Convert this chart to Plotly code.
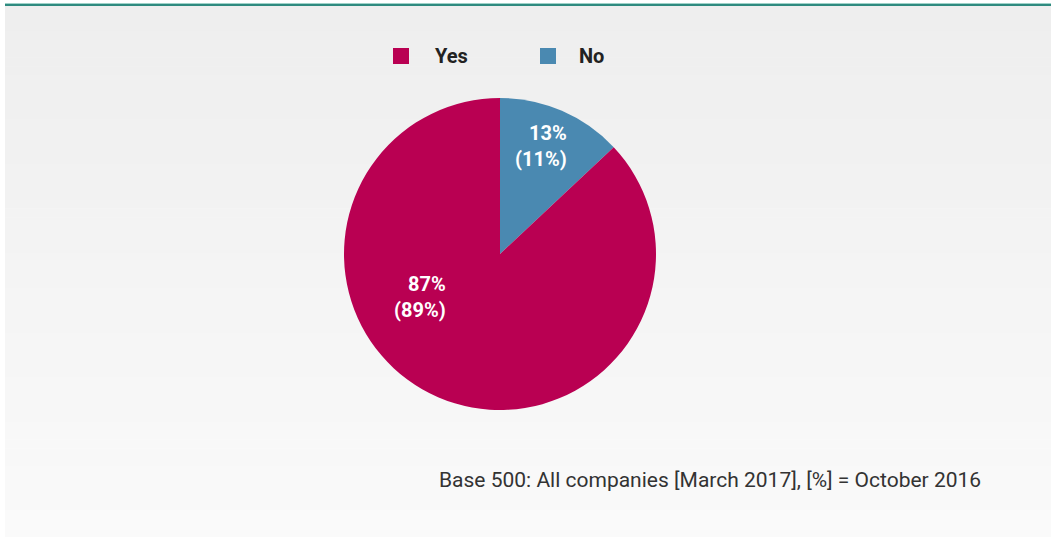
import plotly.graph_objects as go

# Survey answers, March 2017 with October 2016 in brackets
categories = ["No", "Yes"]
values_2017 = [13, 87]
values_2016 = [11, 89]
colors = ["#4a89b1", "#b90052"]
legend_order = ["Yes", "No"]
footnote = "Base 500: All companies [March 2017], [%] = October 2016"

W, H = 1051, 537


def px(x):
    return x / W


def py(y):
    return 1 - y / H


fig = go.Figure()

fig.add_trace(go.Pie(
    labels=categories,
    values=values_2017,
    marker=dict(colors=colors, line=dict(width=0)),
    sort=False,
    direction="clockwise",
    rotation=0,
    textinfo="none",
    hoverinfo="label+percent",
    showlegend=False,
    domain=dict(x=[px(344), px(656)], y=[py(410), py(98)]),
))

shapes = []
# light grey panel with soft vertical gradient
top, bottom, n = 4, H, 60
c0, c1 = (238, 238, 238), (250, 250, 250)
for i in range(n):
    y0 = top + (bottom - top) * i / n
    y1 = top + (bottom - top) * (i + 1) / n + 0.5
    t = i / (n - 1)
    c = tuple(round(a + (b - a) * t) for a, b in zip(c0, c1))
    shapes.append(dict(type="rect", xref="paper", yref="paper", layer="below",
                       x0=px(5), x1=1, y0=py(y1), y1=py(y0),
                       fillcolor="rgb(%d,%d,%d)" % c, line=dict(width=0)))
# green rule across the top of the panel
shapes.append(dict(type="rect", xref="paper", yref="paper", layer="above",
                   x0=px(5), x1=1, y0=py(4), y1=py(3),
                   fillcolor="#9fd2c9", line=dict(width=0)))
shapes.append(dict(type="rect", xref="paper", yref="paper", layer="above",
                   x0=px(5), x1=1, y0=py(6), y1=py(4),
                   fillcolor="#2f8a7f", line=dict(width=0)))

annotations = []
# legend: coloured squares with bold labels
legend_box_x = {"Yes": 393, "No": 540}
legend_text_x = {"Yes": 433, "No": 577}
for name in legend_order:
    idx = categories.index(name)
    x0 = legend_box_x[name]
    shapes.append(dict(type="rect", xref="paper", yref="paper",
                       x0=px(x0), x1=px(x0 + 16), y0=py(64), y1=py(48),
                       fillcolor=colors[idx], line=dict(width=0)))
    annotations.append(dict(xref="paper", yref="paper", x=px(legend_text_x[name]), y=py(56),
                            xanchor="left", yanchor="middle", showarrow=False,
                            text="<b>%s</b>" % name,
                            font=dict(family="Roboto", size=20, color="#222222")))

# slice labels: current share with the earlier share in brackets
label_pos = {"No": (569, 146), "Yes": (448, 297)}
for i, name in enumerate(categories):
    x, y = label_pos[name]
    annotations.append(dict(xref="paper", yref="paper", x=px(x), y=py(y),
                            xanchor="right", yanchor="middle", align="right",
                            showarrow=False,
                            text="<b>%d%%<br>(%d%%)</b>" % (values_2017[i], values_2016[i]),
                            font=dict(family="Roboto", size=20, color="white")))

annotations.append(dict(xref="paper", yref="paper", x=px(983), y=py(480),
                        xanchor="right", yanchor="middle", showarrow=False,
                        text=footnote,
                        font=dict(family="Roboto", size=21, color="#333333")))

fig.update_layout(
    width=W, height=H,
    margin=dict(l=0, r=0, t=0, b=0),
    paper_bgcolor="white",
    plot_bgcolor="rgba(0,0,0,0)",
    shapes=shapes,
    annotations=annotations,
)

fig.write_html("out.html")
